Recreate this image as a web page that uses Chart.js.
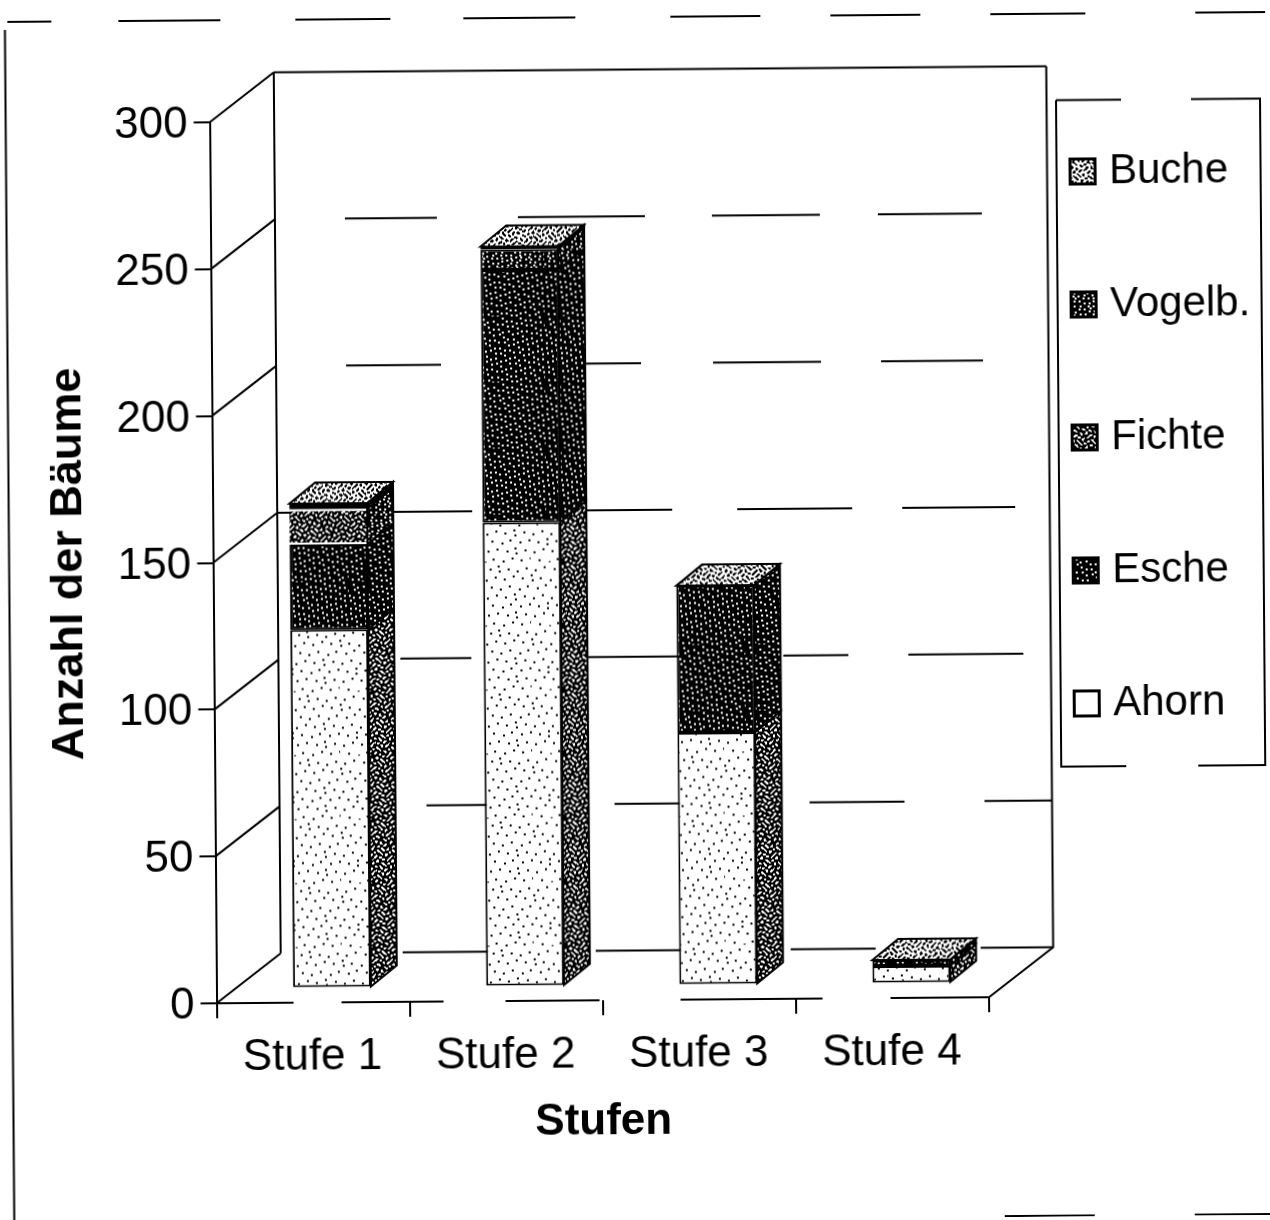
<!DOCTYPE html>
<html lang="de">
<head>
<meta charset="utf-8">
<title>Anzahl der Bäume</title>
<script src="https://cdn.jsdelivr.net/npm/chart.js"></script>
<style>
    html, body { margin: 0; padding: 0; background: #fff; overflow: hidden; }
    #chart { display: block; transform: rotate(-0.45deg); transform-origin: 635px 610px; }
</style>
</head>
<body>
<canvas id="chart" width="1270" height="1220"></canvas>
<script>
const categories = ['Stufe 1', 'Stufe 2', 'Stufe 3', 'Stufe 4'];
const ahorn = [122, 158, 86, 6];
const esche = [29, 86, 50, 2];
const fichte = [12, 0, 0, 0];
const vogelb = [1, 7, 0, 0];
const buche = [1, 1, 0, 0];

// Depth of the box and of one bar, and how far bars stand behind the front plane
const boxDepth = { x: 64.5, y: -49.5 };
const barDepth = { x: 26, y: -21 };
const barShift = { x: 19, y: -14.5 };

// Broken lines of the scan, as dash patterns
const floorDash = [77, 48, 102, 62, 94, 81, 142, 68, 101, 100];
const wallDash = {
    300: [],
    250: [0, 70, 92, 81, 127, 67, 108, 58, 104, 200],
    200: [0, 70, 95, 145, 55, 72, 108, 60, 102, 200],
    150: [195, 115, 85, 65, 115, 50, 113, 200],
    100: [0, 122, 71, 117, 95, 100, 65, 60, 115, 200],
    50: [0, 147, 63, 125, 70, 125, 95, 80, 72, 200],
    0: [0, 122, 88, 105, 90, 105, 85, 105, 75, 200]
};

function makeTile(size) {
    const tile = document.createElement('canvas');
    tile.width = size;
    tile.height = size;
    return tile;
}

// Halftone dots, spread evenly but without a visible grid
function dotsTile(size, count, dot, on, off) {
    const tile = makeTile(size);
    const c = tile.getContext('2d');
    c.fillStyle = off;
    c.fillRect(0, 0, size, size);
    c.fillStyle = on;
    for (let i = 1; i <= count; i++) {
        const x = Math.floor(((i * 0.7548777) % 1) * size);
        const y = Math.floor(((i * 0.5698403) % 1) * size);
        c.fillRect(x, y, dot, dot);
    }
    return tile;
}

// Wormy mesh of the darker greys
function meshTile(level, on, off) {
    const size = 64;
    const tile = makeTile(size);
    const c = tile.getContext('2d');
    const w = 2 * Math.PI / size;
    c.fillStyle = off;
    c.fillRect(0, 0, size, size);
    c.fillStyle = on;
    for (let y = 0; y < size; y++) {
        for (let x = 0; x < size; x++) {
            const v = Math.sin(w * 13 * x + 2.5 * Math.sin(w * 5 * y)) + Math.sin(w * 13 * y + 2.5 * Math.sin(w * 4 * x));
            if (v > level) c.fillRect(x, y, 1, 1);
        }
    }
    return tile;
}

const ctx = document.getElementById('chart').getContext('2d');
const asPattern = tile => ctx.createPattern(tile, 'repeat');

const tileSparse = dotsTile(64, 54, 2, '#000', '#fff');
const tileEsche = dotsTile(66, 150, 2, '#fff', '#000');
const tileVogelb = dotsTile(66, 230, 2, '#fff', '#000');
const tileWorm = meshTile(-0.55, '#000', '#fff');
const tileLight = meshTile(0.3, '#000', '#fff');

const frontFill = [tileSparse, tileEsche, tileWorm, tileVogelb, tileLight].map(asPattern);
const sideFill = [tileWorm, tileEsche, tileVogelb, tileVogelb, tileVogelb].map(asPattern);
const topFill = asPattern(tileLight);

function makeSwatch(tile) {
    const swatch = makeTile(28);
    const c = swatch.getContext('2d');
    c.fillStyle = c.createPattern(tile, 'repeat');
    c.fillRect(0, 0, 28, 28);
    c.strokeStyle = '#000';
    c.lineWidth = 3;
    c.strokeRect(1.5, 1.5, 25, 25);
    return swatch;
}

const blank = makeTile(4);
const blankCtx = blank.getContext('2d');
blankCtx.fillStyle = '#fff';
blankCtx.fillRect(0, 0, 4, 4);
const swatches = [blank, tileEsche, tileWorm, tileVogelb, tileLight].map(makeSwatch);

function line(c, points, dash) {
    c.setLineDash(dash || []);
    c.beginPath();
    points.forEach((p, i) => (i ? c.lineTo(p[0], p[1]) : c.moveTo(p[0], p[1])));
    c.stroke();
    c.setLineDash([]);
}

const paperPlugin = {
    id: 'paper',
    afterLayout(chart) {
        // legend sits over the blank right part of the page
        const legend = chart.legend;
        const gap = legend.options.labels.padding;
        legend.left = 1080.5 - gap;
        legend.right = 1270;
        legend.top = 154 - gap;
        legend.bottom = 1210;
    },
    beforeDraw(chart) {
        const c = chart.ctx;
        c.save();
        c.fillStyle = '#fff';
        c.fillRect(0, 0, chart.width, chart.height);
        c.strokeStyle = '#000';
        c.lineWidth = 2;
        // outer frame, mostly lost in the copy
        line(c, [[12, 17], [1275, 17]], [44, 67, 102, 75, 95, 73, 112, 95, 90, 70, 90, 70, 95, 110, 80]);
        line(c, [[9.5, 25], [9.5, 1225]]);
        line(c, [[1000, 1219], [1275, 1219]], [90, 100, 90]);
        // legend box
        line(c, [[1060, 103.5], [1125, 103.5]]);
        line(c, [[1195, 103.5], [1264, 103.5], [1264, 770], [1197, 770]]);
        line(c, [[1125, 770], [1060, 770], [1060, 103.5]]);
        c.restore();
    },
    beforeDatasetsDraw(chart) {
        const c = chart.ctx;
        const { left, right, bottom } = chart.chartArea;
        const y = chart.scales.y;
        c.save();
        c.strokeStyle = '#000';
        c.lineWidth = 2;
        line(c, [[left, bottom], [right, bottom]], floorDash);
        Object.keys(wallDash).forEach(level => {
            const py = y.getPixelForValue(Number(level));
            line(c, [[left, py], [left + boxDepth.x, py + boxDepth.y]]);
            line(c, [[left + boxDepth.x, py + boxDepth.y], [right + boxDepth.x, py + boxDepth.y]], wallDash[level]);
        });
        const top = y.getPixelForValue(y.max) + boxDepth.y;
        line(c, [[left + boxDepth.x, top], [left + boxDepth.x, bottom + boxDepth.y]]);
        line(c, [[right + boxDepth.x, top], [right + boxDepth.x, bottom + boxDepth.y], [right, bottom]]);
        c.restore();
        c.save();
        c.translate(barShift.x, barShift.y);
    },
    afterDatasetsDraw(chart) {
        const c = chart.ctx;
        c.strokeStyle = '#000';
        c.lineWidth = 2;
        const top = [];
        chart.data.datasets.forEach((ds, i) => {
            chart.getDatasetMeta(i).data.forEach((bar, j) => {
                if (!ds.data[j]) return;
                const r = bar.x + bar.width / 2;
                c.fillStyle = sideFill[i];
                c.beginPath();
                c.moveTo(r, bar.y);
                c.lineTo(r + barDepth.x, bar.y + barDepth.y);
                c.lineTo(r + barDepth.x, bar.base + barDepth.y);
                c.lineTo(r, bar.base);
                c.closePath();
                c.fill();
                c.stroke();
                top[j] = bar;
            });
        });
        top.forEach(bar => {
            const l = bar.x - bar.width / 2;
            const r = bar.x + bar.width / 2;
            c.fillStyle = topFill;
            c.beginPath();
            c.moveTo(l, bar.y);
            c.lineTo(l + barDepth.x, bar.y + barDepth.y);
            c.lineTo(r + barDepth.x, bar.y + barDepth.y);
            c.lineTo(r, bar.y);
            c.closePath();
            c.fill();
            c.stroke();
        });
        c.restore();
    }
};

const series = [
    { label: 'Ahorn', data: ahorn },
    { label: 'Esche', data: esche },
    { label: 'Fichte', data: fichte },
    { label: 'Vogelb.', data: vogelb },
    { label: 'Buche', data: buche }
];

new Chart(ctx, {
    type: 'bar',
    plugins: [paperPlugin],
    data: {
        labels: categories,
        datasets: series.map((s, i) => ({
            label: s.label,
            data: s.data,
            backgroundColor: frontFill[i],
            borderColor: s.label === 'Fichte' ? '#fff' : '#000',
            borderWidth: s.label === 'Fichte' ? { top: 2, bottom: 2, left: 0, right: 0 } : 2,
            borderSkipped: false,
            barPercentage: 0.403,
            categoryPercentage: 1
        }))
    },
    options: {
        responsive: false,
        animation: false,
        layout: { padding: { left: 43, right: 284, top: 119, bottom: 72 } },
        plugins: {
            tooltip: { enabled: false },
            legend: {
                position: 'chartArea',
                align: 'start',
                reverse: true,
                labels: {
                    color: '#000',
                    font: { family: 'Liberation Sans', size: 42 },
                    padding: 91,
                    usePointStyle: true,
                    pointStyleWidth: 11,
                    generateLabels(chart) {
                        const items = Chart.defaults.plugins.legend.labels.generateLabels(chart);
                        items.forEach(item => { item.pointStyle = swatches[item.datasetIndex]; });
                        return items;
                    }
                }
            }
        },
        scales: {
            x: {
                stacked: true,
                afterFit(scale) { scale.height = 148; },
                border: { display: false },
                grid: { color: '#000', lineWidth: 2, drawOnChartArea: false, tickLength: 15 },
                ticks: {
                    color: '#000',
                    padding: 13,
                    maxRotation: 0,
                    labelOffset: -1,
                    font: { family: 'Liberation Sans', size: 44 }
                },
                title: {
                    display: true,
                    text: 'Stufen',
                    color: '#000',
                    padding: 0,
                    font: { family: 'Liberation Sans', size: 44, weight: 'bold' }
                }
            },
            y: {
                stacked: true,
                min: 0,
                max: 300,
                afterFit(scale) { scale.width = 170.5; },
                border: { color: '#000', width: 2 },
                grid: { color: '#000', lineWidth: 2, drawOnChartArea: false, tickLength: 16 },
                ticks: {
                    color: '#000',
                    stepSize: 50,
                    padding: 6,
                    labelOffset: 3,
                    font: { family: 'Liberation Sans', size: 44 }
                },
                title: {
                    display: true,
                    text: 'Anzahl der Bäume',
                    color: '#000',
                    padding: 0,
                    font: { family: 'Liberation Sans', size: 45, weight: 'bold' }
                }
            }
        }
    }
});
</script>
</body>
</html>
